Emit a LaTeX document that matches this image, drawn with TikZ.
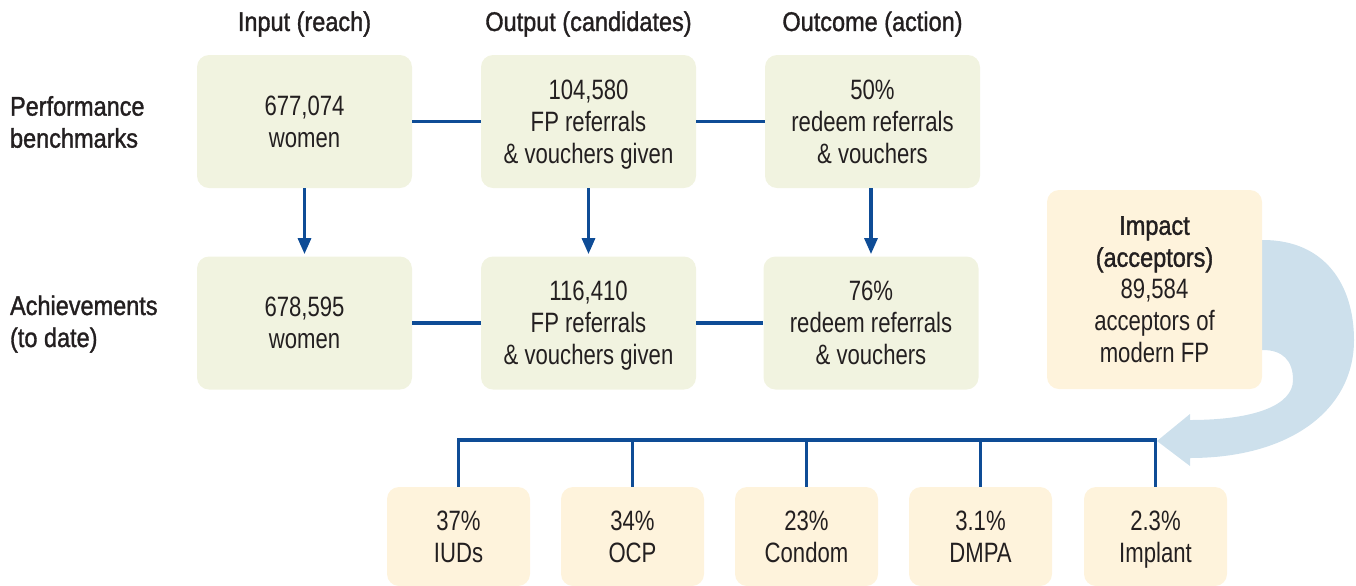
\documentclass[tikz,border=0pt]{standalone}
\usepackage{fontspec}
\setmainfont[FakeStretch=0.79]{Liberation Sans}
\newfontfamily\headfont[FakeStretch=0.87,FakeBold=1.3]{Liberation Sans}
\usetikzlibrary{arrows.meta}
\definecolor{boxgreen}{RGB}{241,243,224}
\definecolor{boxyellow}{RGB}{254,243,220}
\definecolor{lineblue}{RGB}{14,76,150}
\definecolor{arrowblue}{RGB}{205,224,236}
\definecolor{txt}{RGB}{35,31,32}
\tikzset{
  boxfont/.style={font=\fontsize{14}{16}\selectfont},
  headtext/.style={font=\headfont\fontsize{13.5}{16}\selectfont, text=txt},
  gbox/.style={fill=boxgreen, rounded corners=6pt, minimum width=107.5pt, minimum height=66.5pt, align=center, inner sep=0pt, text depth=0pt, boxfont, text=txt},
  ybox/.style={fill=boxyellow, rounded corners=6pt, align=center, inner sep=0pt, text depth=0pt, boxfont, text=txt},
  mbox/.style={ybox, minimum width=71.5pt, minimum height=49.5pt},
  conn/.style={draw=lineblue, line width=1.6pt},
  arr/.style={conn, -{Triangle[length=8pt,width=6.5pt]}, shorten >=1pt}
}
\begin{document}
\begin{tikzpicture}[x=0.5pt,y=-0.5pt]
\useasboundingbox (0,0) rectangle (1356,585);

% headers
\node[headtext] (h1) at (304.5,24) {Input (reach)};
\node[headtext] (h2) at (588.5,24) {Output (candidates)};
\node[headtext] (h3) at (872.5,24) {Outcome (action)};
\node[headtext, anchor=west, align=left] (r1) at (3,122) {Performance\\benchmarks};
\node[headtext, anchor=west, align=left] (r2) at (3,324) {Achievements\\(to date)};

% row 1
\node[gbox] (i1) at (304.5,121.5) {677,074\\women};
\node[gbox] (o1) at (588.5,121.5) {104,580\\FP referrals\\\&\ vouchers given};
\node[gbox] (c1) at (872.5,121.5) {50\%\\redeem referrals\\\&\ vouchers};
% row 2
\node[gbox] (i2) at (304.5,323) {678,595\\women};
\node[gbox] (o2) at (588.5,323) {116,410\\FP referrals\\\&\ vouchers given};
\node[gbox] (c2) at (871,323) {76\%\\redeem referrals\\\&\ vouchers};

\draw[conn] (i1.east) -- (o1.west);
\draw[conn] (o1.east) -- (c1.west);
\draw[conn] (i2.east) -- (o2.west);
\draw[conn] (o2.east) -- (c2.west);
\draw[arr] (i1.south) -- (i2.north);
\draw[arr] (o1.south) -- (o2.north);
\draw[arr] (c1.south -| c2.north) -- (c2.north);

% big curved arrow
\fill[arrowblue] (1250,240) -- (1263,240)
  .. controls (1325,240) and (1354,285) .. (1354,340)
  .. controls (1354,410) and (1290,458) .. (1190,458)
  -- (1190,466) -- (1157,441) -- (1190,414) -- (1190,420)
  .. controls (1255,420) and (1293,405) .. (1293,380)
  .. controls (1293,360) and (1282,350) .. (1263,350)
  -- (1250,350) -- cycle;

% impact
\node[ybox, minimum width=107.5pt, minimum height=99.5pt] (imp) at (1154.5,289.5)
  {{\headfont\fontsize{13.5}{16}\selectfont Impact}\\{\headfont\fontsize{13.5}{16}\selectfont (acceptors)}\\89,584\\acceptors of\\modern FP};

% bottom boxes
\node[mbox] (b1) at (458.5,536.5) {37\%\\IUDs};
\node[mbox] (b2) at (632.5,536.5) {34\%\\OCP};
\node[mbox] (b3) at (806.5,536.5) {23\%\\Condom};
\node[mbox] (b4) at (980.5,536.5) {3.1\%\\DMPA};
\node[mbox] (b5) at (1155.5,536.5) {2.3\%\\Implant};

\coordinate (busL) at (458.5,440);
\coordinate (busR) at (1155.5,440);
\draw[conn] (b1.north) -- (busL) -- (busR) -- (b5.north);
\draw[conn] (b2.north) -- (b2.north |- busL);
\draw[conn] (b3.north) -- (b3.north |- busL);
\draw[conn] (b4.north) -- (b4.north |- busL);
\end{tikzpicture}
\end{document}
